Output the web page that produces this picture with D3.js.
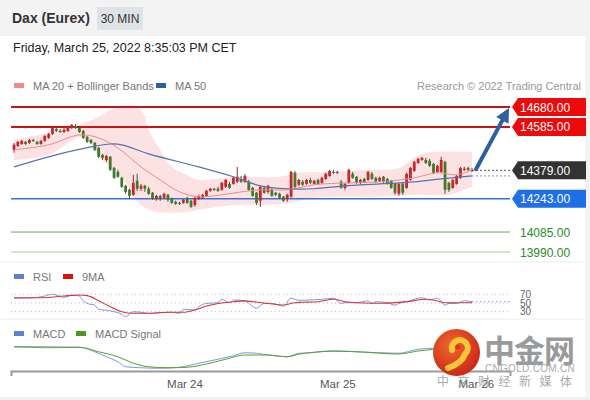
<!DOCTYPE html>
<html><head><meta charset="utf-8">
<script src="https://cdn.jsdelivr.net/npm/d3@7"></script>
<style>
html,body{margin:0;padding:0;background:#fff;}
svg{display:block;font-family:"Liberation Sans",Arial,Helvetica,sans-serif;}
</style></head><body>
<svg id="c" width="590" height="400"></svg>
<script>
// ---------------- DATA ----------------
const title = "Dax (Eurex)";
const interval = "30 MIN";
const stamp = "Friday, March 25, 2022 8:35:03 PM CET";
const credit = "Research \u00a9 2022 Trading Central";
// OHLC per 30-min bar
const ohlc = [
[14476,14509,14462,14500],[14495,14519,14490,14514],[14504,14523,14500,14519],[14514,14519,14500,14504],
[14509,14528,14504,14523],[14523,14528,14514,14519],[14514,14519,14500,14504],[14504,14523,14500,14519],
[14519,14547,14514,14542],[14533,14557,14528,14552],[14552,14585,14547,14580],[14576,14580,14561,14566],
[14566,14576,14557,14561],[14561,14580,14557,14571],[14566,14590,14561,14585],[14580,14599,14576,14595],
[14590,14599,14576,14580],[14580,14590,14557,14561],[14566,14571,14528,14533],[14538,14542,14509,14514],
[14523,14528,14504,14509],[14509,14514,14471,14476],[14485,14490,14438,14443],[14452,14457,14428,14438],
[14428,14452,14419,14447],[14443,14447,14376,14381],[14390,14395,14338,14343],[14371,14381,14343,14348],
[14343,14348,14295,14300],[14305,14310,14267,14276],[14286,14291,14243,14257],[14262,14357,14257,14319],
[14329,14362,14281,14291],[14291,14314,14281,14305],[14305,14310,14276,14291],[14291,14300,14262,14267],
[14272,14276,14238,14243],[14243,14262,14234,14257],[14257,14262,14234,14243],[14248,14272,14243,14267],
[14262,14267,14229,14238],[14243,14248,14219,14224],[14229,14234,14214,14219],[14224,14229,14214,14219],
[14224,14243,14219,14238],[14243,14253,14219,14224],[14234,14238,14200,14205],[14214,14253,14205,14248],
[14243,14262,14238,14257],[14248,14267,14243,14262],[14257,14286,14253,14281],[14281,14295,14276,14291],
[14286,14295,14281,14291],[14291,14300,14276,14281],[14286,14324,14281,14319],[14300,14338,14295,14333],
[14314,14324,14291,14295],[14314,14348,14310,14343],[14324,14395,14319,14348],[14338,14352,14319,14324],
[14324,14362,14319,14352],[14324,14333,14281,14286],[14295,14300,14253,14257],[14272,14276,14214,14224],
[14234,14305,14205,14300],[14295,14305,14267,14272],[14276,14310,14267,14305],[14286,14295,14253,14257],
[14272,14276,14257,14262],[14267,14272,14243,14248],[14253,14257,14229,14234],[14243,14267,14229,14262],
[14253,14376,14248,14371],[14367,14376,14295,14300],[14310,14338,14305,14333],[14324,14333,14305,14310],
[14314,14338,14310,14333],[14333,14343,14314,14319],[14314,14333,14310,14329],[14333,14338,14310,14314],
[14319,14348,14314,14343],[14338,14367,14333,14362],[14352,14381,14348,14376],[14371,14381,14362,14367],
[14367,14376,14362,14371],[14324,14333,14291,14295],[14295,14319,14286,14314],[14319,14386,14314,14381],
[14362,14371,14338,14343],[14348,14352,14314,14319],[14319,14338,14310,14333],[14338,14343,14319,14324],
[14333,14376,14329,14371],[14362,14371,14333,14338],[14343,14348,14319,14324],[14329,14348,14324,14343],
[14348,14352,14319,14324],[14338,14343,14310,14314],[14329,14333,14291,14295],[14314,14319,14262,14272],
[14267,14319,14257,14314],[14314,14324,14262,14272],[14295,14367,14291,14362],[14333,14395,14329,14390],
[14376,14424,14371,14419],[14414,14438,14409,14433],[14428,14443,14424,14438],[14428,14438,14409,14414],
[14424,14433,14395,14400],[14409,14414,14362,14367],[14371,14405,14367,14400],[14371,14443,14367,14428],
[14419,14424,14267,14286],[14319,14324,14276,14286],[14295,14338,14291,14333],[14314,14357,14310,14352],
[14343,14395,14338,14390],[14381,14395,14376,14386],[14390,14395,14376,14381],[14376,14390,14371,14379]
];
// indicator samples: [bar index, value]
const ma20 = [[0,14476],[9,14500],[17,14547],[22,14533],[27,14485],[33,14395],[38,14333],[43,14276],[48,14253],[54,14262],[59,14276],[64,14286],[71,14286],[78,14310],[87,14319],[95,14324],[104,14343],[110,14367],[115,14357],[119,14381]];
const ma50 = [[0,14395],[9,14443],[20,14490],[25,14504],[28,14500],[35,14457],[48,14395],[57,14348],[64,14305],[71,14291],[78,14291],[86,14305],[95,14314],[104,14324],[111,14338],[119,14352]];
const bbUpper = [[0,14523],[9,14557],[18,14604],[22,14632],[25,14666],[29,14675],[33,14666],[35,14571],[38,14476],[41,14395],[45,14357],[48,14333],[57,14348],[69,14348],[74,14367],[82,14371],[92,14381],[100,14390],[104,14438],[107,14462],[119,14466]];
const bbLower = [[0,14428],[9,14452],[18,14538],[22,14443],[28,14348],[31,14253],[35,14191],[40,14177],[45,14181],[48,14191],[57,14214],[66,14214],[72,14224],[78,14248],[95,14253],[104,14262],[113,14262],[119,14300]];
const rsi = [[0,61],[5,62],[8,66],[10,70],[13,63],[15,68],[17,66],[18,55],[19,49],[21,45],[22,35.5],[25,32],[28,24],[29,18.5],[31,30],[33,28.6],[35,26],[38,27.7],[41,28.6],[43,26],[44,35.5],[47,34],[48,41.5],[50,49],[53,50.7],[54,58.5],[56,50.7],[57,57],[60,55],[61,49],[63,38],[65,49],[67,49],[70,43],[72,61],[74,56],[77,57],[80,58.5],[83,61],[85,49],[86,50.7],[89,50.7],[92,55],[93,49],[94,53],[97,50.7],[99,45],[100,49],[102,53],[105,61],[106,62],[108,57],[110,61],[112,45],[113,49],[115,49],[117,55],[119,53]];
const rsiMA = [[0,62],[7,62],[13,66],[17,68.4],[19,67],[22,55],[25,41.5],[28,30],[31,26.3],[35,26.3],[40,28.6],[44,28.6],[47,34],[50,43],[53,49],[57,53],[60,55],[62,53],[66,49],[70,45.4],[73,50.7],[75,51.6],[79,53],[83,58.5],[86,53],[89,50.7],[96,49.3],[102,53],[107,58.5],[109,57],[112,50.7],[119,50.7]];
const macd = [[0,41],[9,37],[17,39],[21,21],[24,1],[27,-19],[29,-39],[33,-43],[38,-45],[43,-41],[48,-25],[53,-9],[57,5],[60,17],[63,15],[66,8],[71,1],[74,15],[77,17],[83,25],[89,21],[100,15],[105,31],[109,35],[115,40],[119,42]];
const macdSignal = [[0,41],[17,39],[22,21],[27,1],[31,-25],[35,-39],[40,-43],[45,-41],[50,-28],[55,-9],[60,8],[66,8],[71,1],[74,11],[83,23],[89,21],[100,12],[105,24],[109,30],[115,36],[119,39]];
const rsiLevels = [70, 50, 30];
const resistances = [14680, 14585];
const lastPrice = 14379;
const pivot = 14243;
const supports = [14085, 13990];
const tickLabels = ["Mar 24", "Mar 25", "Mar 26"];
const tickBars = [44.3, 84, 120];
const wmBig = "中金网", wmUrl = "CNGOLD.COM.CN", wmSub = "中文财经新媒体";

// ---------------- DRAW ----------------
const svg = d3.select("#c");
const x = d3.scaleLinear().domain([0, ohlc.length - 1]).range([14, 472]);
const y = d3.scaleLinear().domain([13990, 14680]).range([252, 107]);
const yR = d3.scaleLinear().domain([30, 70]).range([311.7, 294.3]);
const yM = d3.scaleLinear().domain([-50, 50]).range([369.5, 344.5]);

// header
svg.append("rect").attr("x",0).attr("y",0).attr("width",590).attr("height",36).attr("fill","#f3f3f3");
svg.append("rect").attr("x",585).attr("y",0).attr("width",5).attr("height",400).attr("fill","#f3f3f3");
svg.append("rect").attr("x",0).attr("y",397).attr("width",590).attr("height",3).attr("fill","#f0f0f0");
svg.append("text").attr("x",12).attr("y",23).attr("font-size",14).attr("font-weight","bold").attr("fill","#333").text(title);
svg.append("rect").attr("x",97).attr("y",7).attr("width",46).attr("height",23).attr("fill","#dfe2e6");
svg.append("text").attr("x",120).attr("y",23).attr("text-anchor","middle").attr("font-size",12).attr("fill","#333").text(interval);
svg.append("text").attr("x",13).attr("y",52).attr("font-size",12.5).attr("fill","#222").text(stamp);

// legend
function legend(items, yy){
  items.forEach(it=>{
    svg.append("rect").attr("x",it[0]).attr("y",yy-3).attr("width",10).attr("height",5).attr("fill",it[1]);
    svg.append("text").attr("x",it[0]+19).attr("y",yy+4).attr("font-size",11).attr("fill","#777").text(it[2]);
  });
}
legend([[14,"#f08a8a","MA 20 + Bollinger Bands"],[156,"#2f5f9f","MA 50"]], 86);
svg.append("text").attr("x",581).attr("y",90).attr("text-anchor","end").attr("font-size",11).attr("fill","#999").text(credit);

// panel separators
svg.append("line").attr("x1",0).attr("x2",585).attr("y1",262).attr("y2",262).attr("stroke","#ececec");
svg.append("line").attr("x1",0).attr("x2",585).attr("y1",319).attr("y2",319).attr("stroke","#ececec");

// bollinger band
const cr = d3.curveCatmullRom.alpha(0.5);
const lineP = d3.line().x(d=>x(d[0])).y(d=>y(d[1])).curve(cr);
const bandPath = lineP(bbUpper) + lineP(bbLower.slice().reverse()).replace(/^M/,"L") + "Z";
svg.append("path").attr("d",bandPath).attr("fill","#fbd6d6").attr("opacity",0.7);

// level lines
const L0 = 11, L1 = 510;
resistances.forEach(v=>{
  svg.append("line").attr("x1",L0).attr("x2",L1).attr("y1",y(v)).attr("y2",y(v)).attr("stroke","#c8141a").attr("stroke-width",2);
});
svg.append("line").attr("x1",L0).attr("x2",L1).attr("y1",y(pivot)).attr("y2",y(pivot)).attr("stroke","#3c70d8").attr("stroke-width",1.5);
supports.forEach((v,i)=>{
  svg.append("line").attr("x1",L0).attr("x2",L1).attr("y1",y(v)).attr("y2",y(v)).attr("stroke",i? "#9fd09f":"#6aa86a").attr("stroke-width",1);
});

// candles
const bw = 2.8;
const g = svg.append("g");
ohlc.forEach((d,i)=>{
  const up = d[3] >= d[0];
  const col = up ? "#c7262c" : "#417a2c";
  const cx = x(i);
  g.append("line").attr("x1",cx).attr("x2",cx).attr("y1",y(d[1])).attr("y2",y(d[2])).attr("stroke",up?"#9a2a2a":"#3c5a30").attr("stroke-width",1);
  const top = y(Math.max(d[0],d[3])), bot = y(Math.min(d[0],d[3]));
  g.append("rect").attr("x",cx-bw/2).attr("y",top).attr("width",bw).attr("height",Math.max(1,bot-top)).attr("fill",col);
});

// MA lines
svg.append("path").attr("d",lineP(ma20)).attr("fill","none").attr("stroke","#ee8c8c").attr("stroke-width",1);
svg.append("path").attr("d",lineP(ma50)).attr("fill","none").attr("stroke","#5274b0").attr("stroke-width",1.2);

// dotted extensions
const lastX = x(ohlc.length-1);
svg.append("line").attr("x1",lastX).attr("x2",L1).attr("y1",y(lastPrice)).attr("y2",y(lastPrice)).attr("stroke","#555").attr("stroke-dasharray","2,2");
svg.append("line").attr("x1",lastX).attr("x2",L1).attr("y1",y(ma50[ma50.length-1][1])).attr("y2",y(ma50[ma50.length-1][1])).attr("stroke","#8a9ab8").attr("stroke-dasharray","2,2");

// arrow
const ax0 = x(ohlc.length-1)+4, ay0 = y(lastPrice)-1, ax1 = 509, ay1 = y(14680)+1;
const ang = Math.atan2(ay1-ay0, ax1-ax0);
const hl = 14, hw = 7;
const bx = ax1 - hl*Math.cos(ang), by = ay1 - hl*Math.sin(ang);
svg.append("line").attr("x1",ax0).attr("y1",ay0).attr("x2",bx).attr("y2",by).attr("stroke","#2e5f9e").attr("stroke-width",4).attr("stroke-linecap","round");
svg.append("path").attr("d",`M${ax1},${ay1}L${bx+hw*Math.sin(ang)},${by-hw*Math.cos(ang)}L${bx-hw*Math.sin(ang)},${by+hw*Math.cos(ang)}Z`).attr("fill","#2e5f9e");

// price tags
function tag(v, fill){
  const yy = y(v), h = 18;
  svg.append("path").attr("d",`M512,${yy}L518,${yy-h/2}H586V${yy+h/2}H518Z`).attr("fill",fill);
  svg.append("text").attr("x",520).attr("y",yy+4.5).attr("font-size",12).attr("fill","#fff").text(d3.format(".2f")(v));
}
resistances.forEach(v=>tag(v,"#ee0a0a"));
tag(lastPrice,"#333333");
tag(pivot,"#1f6fe8");
supports.forEach(v=>{
  svg.append("text").attr("x",520).attr("y",y(v)+4.5).attr("font-size",12).attr("fill","#2a8a2a").text(d3.format(".2f")(v));
});

// RSI panel
legend([[14,"#5b7fd6","RSI"],[63,"#e01010","9MA"]], 277);
rsiLevels.forEach(v=>{
  svg.append("line").attr("x1",L0).attr("x2",L1).attr("y1",yR(v)).attr("y2",yR(v)).attr("stroke","#bbb").attr("stroke-dasharray","1,3");
  svg.append("text").attr("x",520).attr("y",yR(v)+3.5).attr("font-size",10).attr("fill","#666").text(v);
});
const lineR = d3.line().x(d=>x(d[0])).y(d=>yR(d[1])).curve(d3.curveMonotoneX);
svg.append("path").attr("d",lineR(rsi)).attr("fill","none").attr("stroke","#7b98e0").attr("stroke-width",1);
svg.append("path").attr("d",lineR(rsiMA)).attr("fill","none").attr("stroke","#d8343a").attr("stroke-width",1.1);
svg.append("line").attr("x1",lastX).attr("x2",L1).attr("y1",yR(rsi[rsi.length-1][1])).attr("y2",yR(rsi[rsi.length-1][1])).attr("stroke","#9fb2e6").attr("stroke-dasharray","2,2");

// MACD panel
legend([[14,"#5b7fd6","MACD"],[76,"#4c9a1c","MACD Signal"]], 334);
const lineM = d3.line().x(d=>x(d[0])).y(d=>yM(d[1])).curve(d3.curveMonotoneX);
svg.append("path").attr("d",lineM(macd)).attr("fill","none").attr("stroke","#7b98e0").attr("stroke-width",1);
svg.append("path").attr("d",lineM(macdSignal)).attr("fill","none").attr("stroke","#5aa02c").attr("stroke-width",1);

// x axis
const xa = d3.scaleLinear().domain([x.invert(11), x.invert(510)]).range([11, 510]);
const axis = d3.axisBottom(xa).tickValues(tickBars).tickFormat((d,i)=>tickLabels[i]).tickSizeInner(0).tickSizeOuter(5).tickPadding(9);
const ag = svg.append("g").attr("transform","translate(0,371)").call(axis);
ag.select(".domain").attr("stroke","#999").attr("stroke-width",2);
ag.selectAll("text").attr("font-size",11.5).attr("fill","#555").attr("font-family","'Liberation Sans',Arial,sans-serif");

// watermark
const wm = svg.append("g");
const grad = svg.append("defs").append("radialGradient").attr("id","lg").attr("cx","40%").attr("cy","35%").attr("r","70%");
grad.append("stop").attr("offset","0%").attr("stop-color","#ef6a2a");
grad.append("stop").attr("offset","100%").attr("stop-color","#c9241a");
wm.append("circle").attr("cx",456.5).attr("cy",352.5).attr("r",23.5).attr("fill","url(#lg)");
wm.append("path").attr("d","M452,350 a8,8 0 1,1 13,4 q-3,9 -17,14").attr("fill","none").attr("stroke","#f8c53a").attr("stroke-width",6).attr("stroke-linecap","round");
wm.append("circle").attr("cx",458).attr("cy",347).attr("r",2.5).attr("fill","#d8391c");
wm.append("text").attr("x",484).attr("y",362).attr("font-size",31).attr("font-weight","bold").attr("fill","#9a9a9a").attr("font-family","'Noto Sans CJK SC',sans-serif").attr("letter-spacing",-1).text(wmBig);
wm.append("text").attr("x",485).attr("y",372).attr("font-size",10).attr("fill","#aaa").attr("letter-spacing",0.3).text(wmUrl);
wm.append("text").attr("x",437).attr("y",386).attr("font-size",12).attr("fill","#aaa").attr("font-family","'Noto Sans CJK SC',sans-serif").attr("letter-spacing",8.5).text(wmSub);
</script>
</body></html>
